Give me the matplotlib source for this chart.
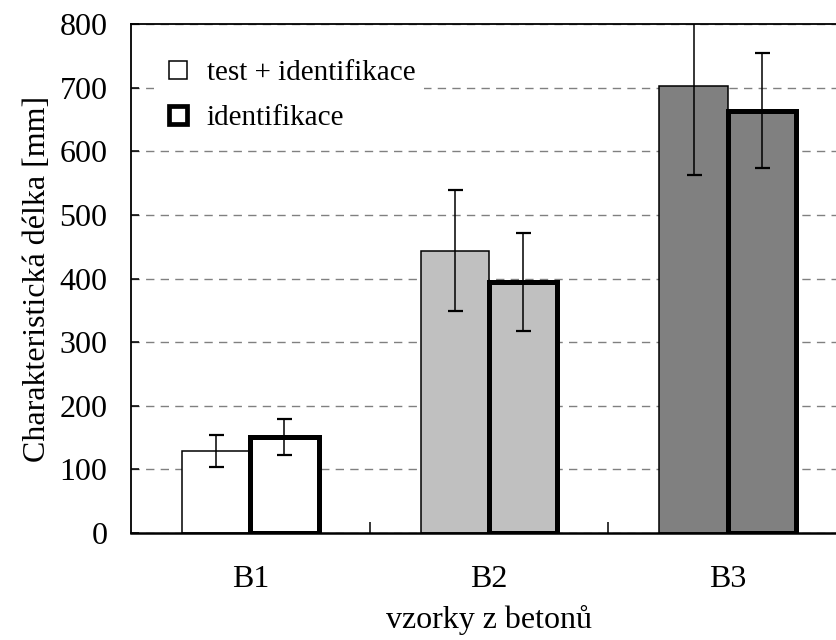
import matplotlib
matplotlib.use("Agg")
import matplotlib.pyplot as plt
from matplotlib.lines import Line2D
import numpy as np

plt.rcParams['font.family'] = ['Liberation Serif', 'DejaVu Serif']

categories = ["B1", "B2", "B3"]
test_ident = [129, 444, 702]
test_ident_err = [25, 95, 139]
ident = [151, 394, 664]
ident_err = [28, 77, 90]
fill_colors = ["#ffffff", "#c0c0c0", "#808080"]
yticks = [0, 100, 200, 300, 400, 500, 600, 700, 800]

fig = plt.figure(figsize=(8.37, 6.4), dpi=100)
ax = fig.add_axes([131/837, 107/640, 716/837, 509/640])

x = np.arange(len(categories))
w = 0.286

ax.bar(x - w/2, test_ident, width=w, color=fill_colors, edgecolor="black",
       linewidth=1.1, zorder=2)
ax.bar(x + w/2, ident, width=w, color=fill_colors, edgecolor="black",
       linewidth=3.6, zorder=3)
ax.errorbar(x - w/2, test_ident, yerr=test_ident_err, fmt="none", ecolor="black",
            elinewidth=1.1, capsize=5.4, capthick=1.6, zorder=4)
ax.errorbar(x + w/2, ident, yerr=ident_err, fmt="none", ecolor="black",
            elinewidth=1.1, capsize=5.4, capthick=1.6, zorder=4)

ax.set_xlim(-0.5, 2.5)
ax.set_ylim(0, 800)
ax.set_yticks(yticks)
ax.set_xticks(x)
ax.set_xticklabels(categories)
ax.set_xticks([0.5, 1.5], minor=True)
ax.tick_params(axis="x", which="major", length=0, pad=23, labelsize=23)
ax.tick_params(axis="x", which="minor", direction="in", length=8, width=1.1)
ax.tick_params(axis="y", direction="in", length=6, width=1.1, labelsize=23, pad=17)

ax.yaxis.grid(True, color="#808080", linestyle=(0, (6, 4.5)), linewidth=1.0, zorder=0)
ax.set_axisbelow(True)

for s in ["left", "top"]:
    ax.spines[s].set_linewidth(1.3)
ax.spines["bottom"].set_linewidth(1.8)
ax.spines["right"].set_visible(False)

ax.set_ylabel("Charakteristická délka [mm]", fontsize=23, labelpad=5)
ax.set_xlabel("vzorky z betonů", fontsize=23, labelpad=8)

handles = [
    Line2D([], [], linestyle="none", marker="s", markersize=13.5,
           markerfacecolor="white", markeredgecolor="black", markeredgewidth=1.1),
    Line2D([], [], linestyle="none", marker="s", markersize=13.5,
           markerfacecolor="white", markeredgecolor="black", markeredgewidth=3.4),
]
leg = ax.legend(handles, ["test + identifikace", "identifikace"], loc="upper left",
                bbox_to_anchor=(0.012, 0.975), fontsize=21, frameon=True,
                handlelength=1.0, handletextpad=0.5, labelspacing=0.62,
                borderpad=0.3, facecolor="white", edgecolor="none", framealpha=1)

fig.savefig("out.png", dpi=100)
